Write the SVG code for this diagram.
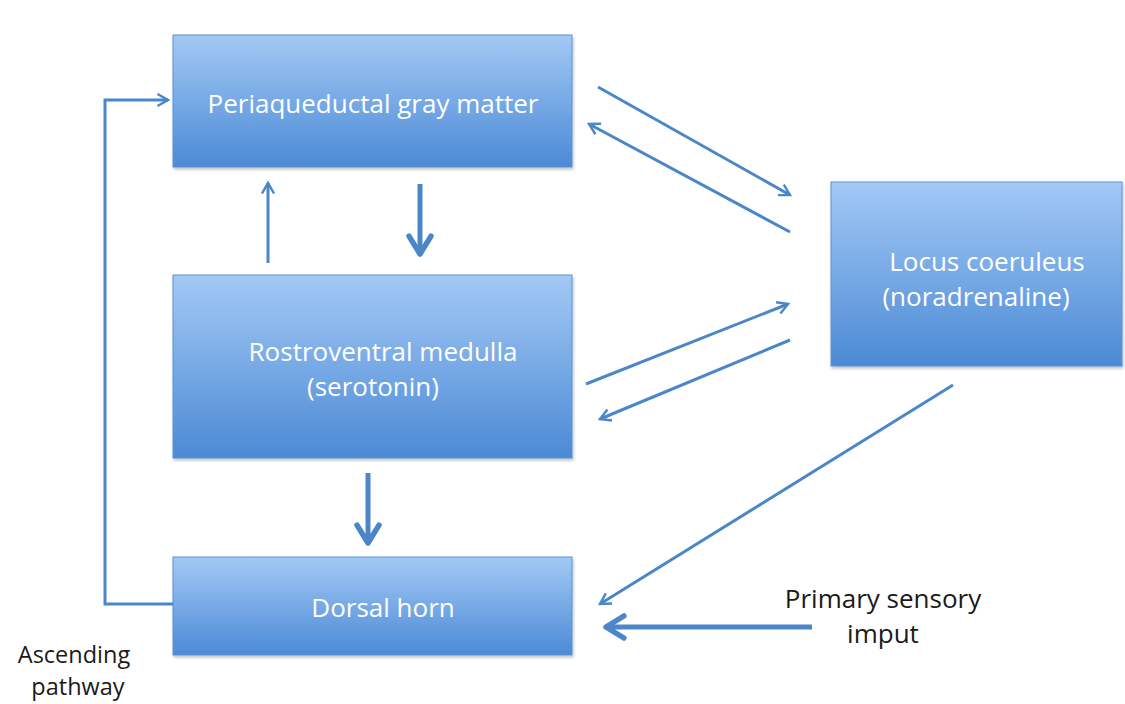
<svg xmlns="http://www.w3.org/2000/svg" width="1125" height="704" viewBox="0 0 1125 704">
<defs>
<linearGradient id="g" x1="0" y1="0" x2="0" y2="1">
<stop offset="0" stop-color="#a3c9f5"/>
<stop offset="1" stop-color="#4c8ad6"/>
</linearGradient>
<filter id="sh" x="-5%" y="-5%" width="110%" height="115%">
<feDropShadow dx="1" dy="2" stdDeviation="1.5" flood-color="#000" flood-opacity="0.25"/>
</filter>
<marker id="ah" viewBox="0 0 10 10" refX="8" refY="5" markerWidth="5" markerHeight="5" orient="auto" markerUnits="strokeWidth">
<path d="M1,1 L8,5 L1,9" fill="none" stroke="#4a86c8" stroke-width="1.6"/>
</marker>
<marker id="ahb" viewBox="0 0 10 10" refX="8" refY="5" markerWidth="5.5" markerHeight="5.5" orient="auto" markerUnits="strokeWidth">
<path d="M1.5,1 L8,5 L1.5,9" fill="none" stroke="#4a86c8" stroke-width="2" stroke-linecap="round" stroke-linejoin="round"/>
</marker>
</defs>
<style>
.box{fill:url(#g);stroke:#5b93d3;stroke-width:1;filter:url(#sh)}
.wt{font-family:"Open Sans","Liberation Sans",sans-serif;font-size:26px;fill:#ffffff;text-anchor:middle}
.bt{font-family:"Open Sans","Liberation Sans",sans-serif;font-size:26px;fill:#1a1a1a;text-anchor:middle}
.st{font-size:23.5px}
.c{fill:none;stroke:#4a86c8;stroke-width:3}
.ct{fill:none;stroke:#4a86c8;stroke-width:5}
</style>
<rect width="1125" height="704" fill="#ffffff"/>
<g id="pag"><rect class="box" x="173" y="35" width="399" height="132"/><text class="wt" x="373" y="113">Periaqueductal gray matter</text></g>
<g id="rvm"><rect class="box" x="173" y="275" width="399" height="183"/><text class="wt" x="383" y="361">Rostroventral medulla</text><text class="wt" x="373" y="396">(serotonin)</text></g>
<g id="dh"><rect class="box" x="173" y="557" width="399" height="98"/><text class="wt" x="383" y="617">Dorsal horn</text></g>
<g id="lc"><rect class="box" x="831" y="182" width="291" height="184"/><text class="wt" x="987" y="271">Locus coeruleus</text><text class="wt" x="976" y="306">(noradrenaline)</text></g>
<g id="labels">
<text class="bt" x="883" y="608">Primary sensory</text>
<text class="bt" x="883" y="643">imput</text>
<text class="bt st" x="74" y="663">Ascending</text>
<text class="bt st" x="78" y="695">pathway</text>
</g>
<g id="connectors">
<line class="c" x1="598" y1="87" x2="790" y2="195" marker-end="url(#ah)"/>
<line class="c" x1="790" y1="232" x2="589" y2="124" marker-end="url(#ah)"/>
<line class="c" x1="586" y1="384" x2="788" y2="304" marker-end="url(#ah)"/>
<line class="c" x1="790" y1="340" x2="600" y2="419" marker-end="url(#ah)"/>
<line class="c" x1="953" y1="385" x2="600" y2="604" marker-end="url(#ah)"/>
<line class="c" x1="268" y1="263" x2="268" y2="183" marker-end="url(#ah)"/>
<line class="ct" x1="420" y1="184" x2="420" y2="254" marker-end="url(#ahb)"/>
<line class="ct" x1="368" y1="473" x2="368" y2="543" marker-end="url(#ahb)"/>
<line class="ct" x1="812" y1="627" x2="606" y2="627" marker-end="url(#ahb)"/>
<polyline class="c" points="173,604 105,604 105,100 168,100" marker-end="url(#ah)"/>
</g>
</svg>
